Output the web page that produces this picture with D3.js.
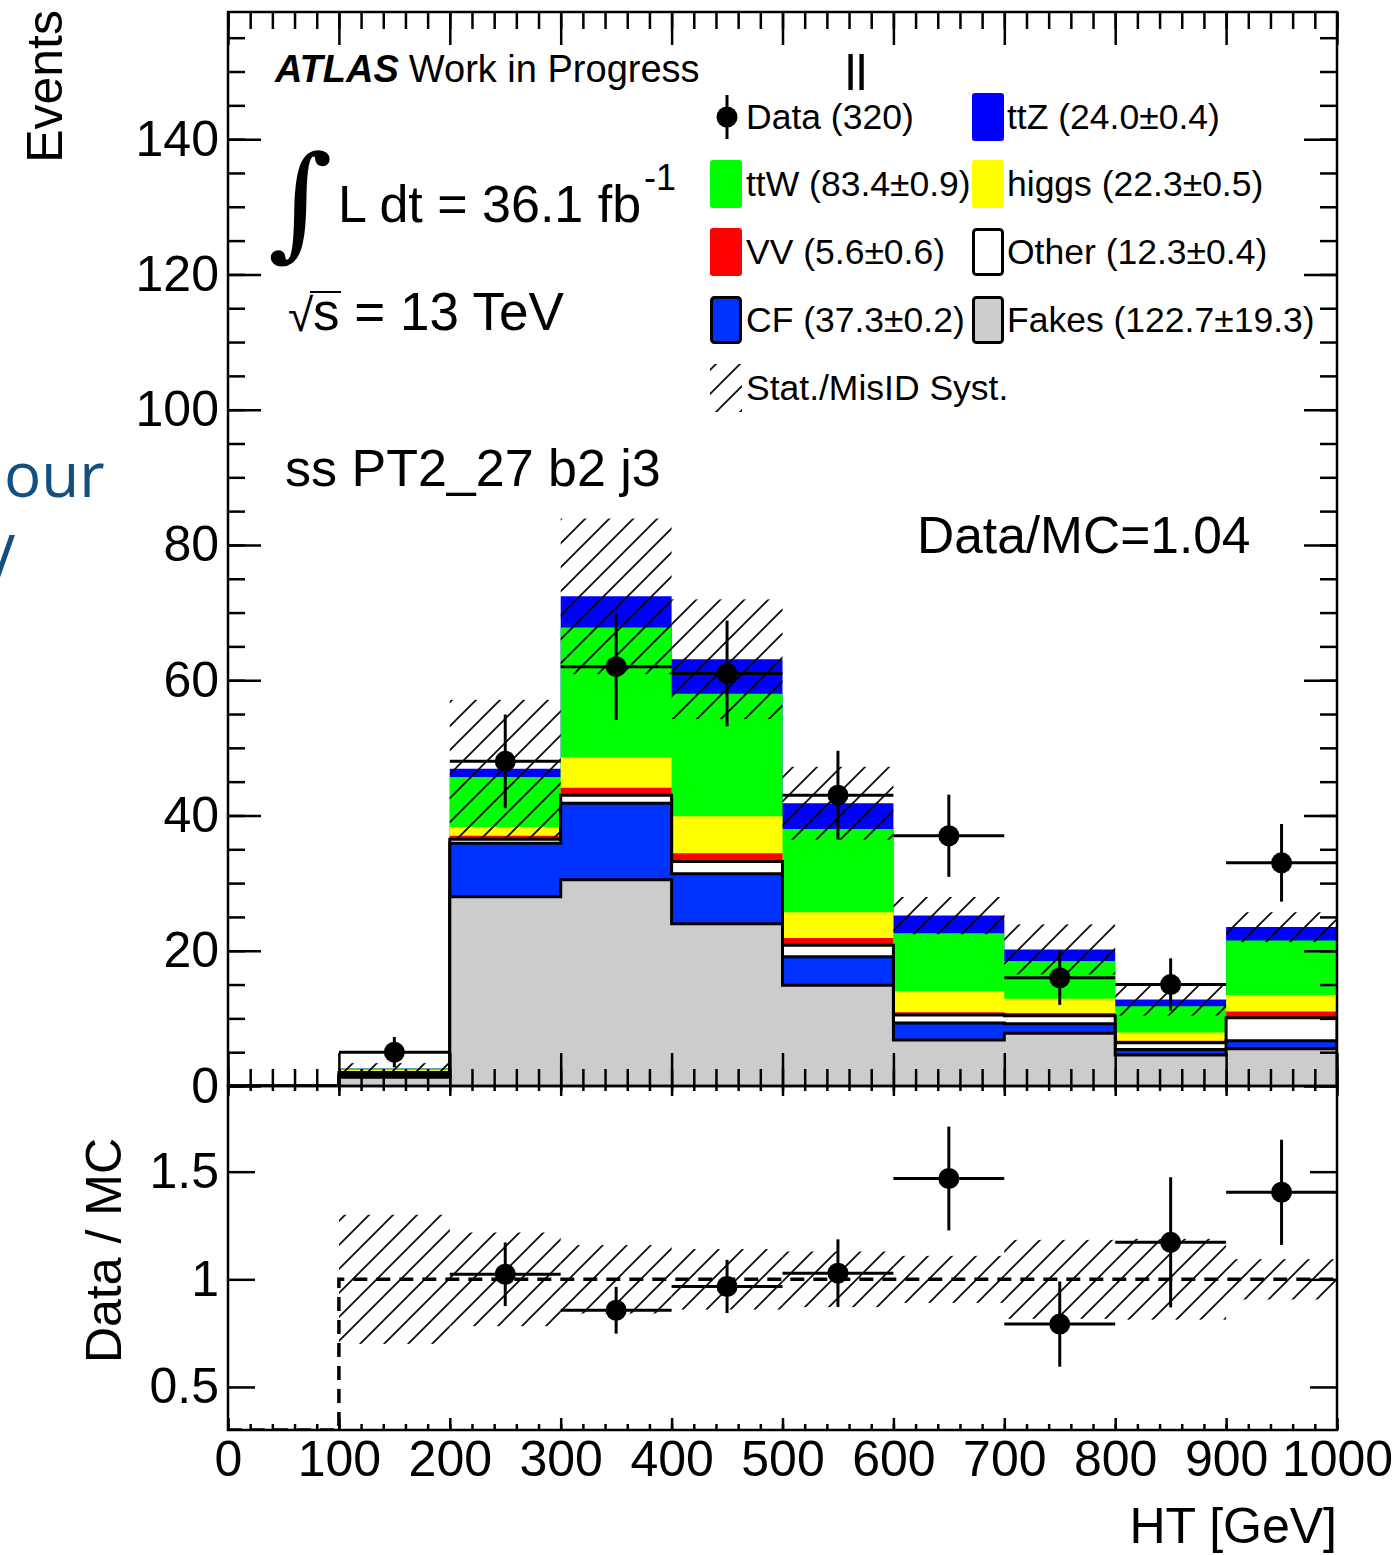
<!DOCTYPE html>
<html>
<head>
<meta charset="utf-8">
<script src="https://cdn.jsdelivr.net/npm/d3@7.9.0/dist/d3.min.js"></script>
<style>
  body { margin: 0; background: #fff; }
  svg { display: block; font-family: "Liberation Sans", Arial, Helvetica, sans-serif; }
</style>
</head>
<body>
<svg id="chart" width="1399" height="1555"></svg>
<script>
// HT bins, 100 GeV wide
const binEdges = [0, 100, 200, 300, 400, 500, 600, 700, 800, 900, 1000];

// observed events per bin
const dataCounts = [0, 5, 48, 62, 61, 43, 37, 16, 15, 33];
const dataErr    = [0, 2.24, 6.93, 7.87, 7.81, 6.56, 6.08, 4.0, 3.87, 5.74];

// MC components per bin
const fakes = [0, 1.3, 28.0, 30.5, 24.0, 14.9, 6.8, 7.8, 4.6, 5.5];
const cf    = [0, 0.3, 7.9, 11.3, 7.4, 4.2, 2.5, 1.4, 0.8, 1.2];
const other = [0, 0.4, 0.6, 1.2, 1.8, 1.7, 1.2, 1.2, 1.0, 3.4];
const vv    = [0, 0.2, 0.5, 1.1, 1.2, 1.1, 0.4, 0.4, 0.3, 0.9];
const higgs = [0, 0.15, 1.3, 4.5, 5.5, 3.8, 3.1, 2.1, 1.2, 2.45];
const ttw   = [0, 0.2, 7.4, 19.2, 18.1, 12.3, 8.6, 5.6, 3.9, 8.05];
const ttz   = [0, 0.05, 1.2, 4.6, 5.1, 3.8, 2.6, 1.7, 1.0, 2.0];

// stat + MisID syst on the total MC
const mcErr = [0, 0.78, 10.2, 11.5, 8.85, 5.4, 2.75, 3.7, 2.4, 2.2];

const legendLabels = {
  data: 'Data (320)', ttz: 'ttZ (24.0\u00b10.4)', ttw: 'ttW (83.4\u00b10.9)',
  higgs: 'higgs (22.3\u00b10.5)', vv: 'VV (5.6\u00b10.6)', other: 'Other (12.3\u00b10.4)',
  cf: 'CF (37.3\u00b10.2)', fakes: 'Fakes (122.7\u00b119.3)', band: 'Stat./MisID Syst.'
};

const yMainTicks = [0, 20, 40, 60, 80, 100, 120, 140];
const yRatioTicks = [0.5, 1, 1.5];
const xTicks = [0, 100, 200, 300, 400, 500, 600, 700, 800, 900, 1000];

// stack order bottom -> top
const components = [
  { key: 'fakes', vals: fakes, fill: '#cccccc', outline: true },
  { key: 'cf',    vals: cf,    fill: '#0032ff', outline: true },
  { key: 'other', vals: other, fill: '#ffffff', outline: true },
  { key: 'vv',    vals: vv,    fill: '#ff0000', outline: false },
  { key: 'higgs', vals: higgs, fill: '#ffff00', outline: false },
  { key: 'ttw',   vals: ttw,   fill: '#00ff00', outline: false },
  { key: 'ttz',   vals: ttz,   fill: '#0000ff', outline: false },
];

// ---- geometry
const L = 228, R = 1337, T = 12, MB = 1086, RB = 1430;
const x = d3.scaleLinear().domain([0, 1000]).range([L, R]);
const yMain = d3.scaleLinear().domain([0, 158.8]).range([MB, T]);
const yRatio = d3.scaleLinear().domain([0.3, 1.898]).range([RB, MB]);

const svg = d3.select('#chart');
const defs = svg.append('defs');

// hatch like ROOT 3004-ish
defs.append('pattern')
  .attr('id', 'hatch').attr('patternUnits', 'userSpaceOnUse')
  .attr('width', 24).attr('height', 24)
  .append('path')
  .attr('d', 'M-6,6 L6,-6 M0,24 L24,0 M18,30 L30,18')
  .attr('stroke', '#000').attr('stroke-width', 1.6);

defs.append('clipPath').attr('id', 'clipMain')
  .append('rect').attr('x', L).attr('y', T).attr('width', R - L).attr('height', MB - T);
defs.append('clipPath').attr('id', 'clipRatio')
  .append('rect').attr('x', L).attr('y', MB).attr('width', R - L).attr('height', RB - MB);

const nb = dataCounts.length;
const bins = d3.range(nb).map(i => ({ i, lo: binEdges[i], hi: binEdges[i + 1], c: (binEdges[i] + binEdges[i + 1]) / 2 }));

// cumulative tops
let running = new Array(nb).fill(0);
components.forEach(comp => {
  running = running.map((r, i) => r + comp.vals[i]);
  comp.top = running.slice();
});
const mcTotal = running;

// step points for a histogram
function stepPts(vals) {
  const pts = [];
  bins.forEach((b, i) => { pts.push([b.lo, vals[i]]); pts.push([b.hi, vals[i]]); });
  return pts;
}

const main = svg.append('g').attr('clip-path', 'url(#clipMain)');

const area = d3.area().x(d => x(d[0])).y0(yMain(0)).y1(d => yMain(d[1]));
const line = d3.line().x(d => x(d[0])).y(d => yMain(d[1]));

// ROOT draws the stack top first, each filled down to zero
components.slice().reverse().forEach(comp => {
  const pts = stepPts(comp.top);
  main.append('path').attr('d', area(pts)).attr('fill', comp.fill).attr('stroke', 'none');
  if (comp.outline) {
    const outline = [[binEdges[0], 0], ...pts, [binEdges[nb], 0]];
    main.append('path').attr('d', line(outline))
      .attr('fill', 'none').attr('stroke', '#000').attr('stroke-width', 3)
      .attr('stroke-linejoin', 'miter');
  }
});

// uncertainty band
const filled = bins.filter(b => mcTotal[b.i] > 0);
main.selectAll('rect.band').data(filled).join('rect')
  .attr('class', 'band')
  .attr('x', b => x(b.lo)).attr('width', b => x(b.hi) - x(b.lo))
  .attr('y', b => yMain(mcTotal[b.i] + mcErr[b.i]))
  .attr('height', b => yMain(mcTotal[b.i] - mcErr[b.i]) - yMain(mcTotal[b.i] + mcErr[b.i]))
  .attr('fill', 'url(#hatch)');

// data points
function drawPoints(g, pts, yScale) {
  const sel = g.selectAll('g.pt').data(pts).join('g').attr('class', 'pt');
  sel.append('line')
    .attr('x1', d => x(d.lo)).attr('x2', d => x(d.hi))
    .attr('y1', d => yScale(d.v)).attr('y2', d => yScale(d.v))
    .attr('stroke', '#000').attr('stroke-width', 3);
  sel.append('line')
    .attr('x1', d => x(d.c)).attr('x2', d => x(d.c))
    .attr('y1', d => yScale(d.v - d.e)).attr('y2', d => yScale(d.v + d.e))
    .attr('stroke', '#000').attr('stroke-width', 3);
  sel.append('circle')
    .attr('cx', d => x(d.c)).attr('cy', d => yScale(d.v)).attr('r', 10.5).attr('fill', '#000');
}
drawPoints(main, bins.map(b => ({ ...b, v: dataCounts[b.i], e: dataErr[b.i] })).filter(d => d.v > 0), yMain);

// ---- ratio panel
const ratio = svg.append('g').attr('clip-path', 'url(#clipRatio)');
ratio.selectAll('rect.rband').data(filled).join('rect')
  .attr('class', 'rband')
  .attr('x', b => x(b.lo)).attr('width', b => x(b.hi) - x(b.lo))
  .attr('y', b => yRatio(1 + mcErr[b.i] / mcTotal[b.i]))
  .attr('height', b => yRatio(1 - mcErr[b.i] / mcTotal[b.i]) - yRatio(1 + mcErr[b.i] / mcTotal[b.i]))
  .attr('fill', 'url(#hatch)');

// MC/MC reference, dashed
const refVals = mcTotal.map(v => (v > 0 ? 1 : 0));
const refPts = stepPts(refVals).map(p => [p[0], Math.max(p[1], 0.3)]);
ratio.append('path')
  .attr('d', d3.line().x(d => x(d[0])).y(d => yRatio(d[1]))(refPts))
  .attr('fill', 'none').attr('stroke', '#000').attr('stroke-width', 3.5)
  .attr('stroke-dasharray', '14,9');

const ratioPts = bins.map(b => ({ ...b, v: mcTotal[b.i] > 0 ? dataCounts[b.i] / mcTotal[b.i] : 0, e: mcTotal[b.i] > 0 ? dataErr[b.i] / mcTotal[b.i] : 0 }))
  .filter(d => d.v > 0 && d.v < 1.898);
drawPoints(ratio, ratioPts, yRatio);

// ---- frames and ticks
const frame = svg.append('g');
frame.append('rect').attr('x', L).attr('y', T).attr('width', R - L).attr('height', MB - T)
  .attr('fill', 'none').attr('stroke', '#000').attr('stroke-width', 2.5);
frame.append('rect').attr('x', L).attr('y', MB).attr('width', R - L).attr('height', RB - MB)
  .attr('fill', 'none').attr('stroke', '#000').attr('stroke-width', 2.5);

function styleAxis(g) {
  g.select('.domain').remove();
  g.selectAll('line').attr('stroke', '#000').attr('stroke-width', 2.5);
  g.attr('font-size', 50).attr('font-family', '"Liberation Sans", Arial, sans-serif');
  g.selectAll('text').attr('fill', '#000');
}
const yMinor = d3.range(0, 158, 5);
const xMinor = d3.range(0, 1001, 20);

// main y
frame.append('g').attr('transform', `translate(${L},0)`)
  .call(d3.axisLeft(yMain).tickValues(yMinor).tickSize(-17).tickFormat('')).call(styleAxis);
frame.append('g').attr('transform', `translate(${L},0)`)
  .call(d3.axisLeft(yMain).tickValues(yMainTicks).tickSize(-33).tickPadding(9).tickFormat(d3.format('d'))).call(styleAxis);
frame.append('g').attr('transform', `translate(${R},0)`)
  .call(d3.axisRight(yMain).tickValues(yMinor).tickSize(-17).tickFormat('')).call(styleAxis);
frame.append('g').attr('transform', `translate(${R},0)`)
  .call(d3.axisRight(yMain).tickValues(yMainTicks).tickSize(-33).tickFormat('')).call(styleAxis);
// main x
frame.append('g').attr('transform', `translate(0,${MB})`)
  .call(d3.axisBottom(x).tickValues(xMinor).tickSize(-17).tickFormat('')).call(styleAxis);
frame.append('g').attr('transform', `translate(0,${MB})`)
  .call(d3.axisBottom(x).tickValues(xTicks).tickSize(-33).tickFormat('')).call(styleAxis);
frame.append('g').attr('transform', `translate(0,${T})`)
  .call(d3.axisTop(x).tickValues(xMinor).tickSize(-17).tickFormat('')).call(styleAxis);
frame.append('g').attr('transform', `translate(0,${T})`)
  .call(d3.axisTop(x).tickValues(xTicks).tickSize(-33).tickFormat('')).call(styleAxis);

// ratio y
frame.append('g').attr('transform', `translate(${L},0)`)
  .call(d3.axisLeft(yRatio).tickValues(yRatioTicks).tickSize(-27).tickPadding(9).tickFormat(d => String(d))).call(styleAxis);
frame.append('g').attr('transform', `translate(${R},0)`)
  .call(d3.axisRight(yRatio).tickValues(yRatioTicks).tickSize(-27).tickFormat('')).call(styleAxis);
// ratio x
frame.append('g').attr('transform', `translate(0,${RB})`)
  .call(d3.axisBottom(x).tickValues(xMinor).tickSize(-6).tickFormat('')).call(styleAxis);
frame.append('g').attr('transform', `translate(0,${RB})`)
  .call(d3.axisBottom(x).tickValues(xTicks).tickSize(-12).tickPadding(10).tickFormat(d3.format('d'))).call(styleAxis);
frame.append('g').attr('transform', `translate(0,${MB})`)
  .call(d3.axisTop(x).tickValues(xMinor).tickSize(-5).tickFormat('')).call(styleAxis);
frame.append('g').attr('transform', `translate(0,${MB})`)
  .call(d3.axisTop(x).tickValues(xTicks).tickSize(-10).tickFormat('')).call(styleAxis);

// ---- axis titles
svg.append('text').attr('transform', 'translate(62,10) rotate(-90)')
  .attr('text-anchor', 'end').attr('font-size', 50).text('Events');
svg.append('text').attr('transform', 'translate(121,1138) rotate(-90)')
  .attr('text-anchor', 'end').attr('font-size', 50).text('Data / MC');
svg.append('text').attr('x', R).attr('y', 1543)
  .attr('text-anchor', 'end').attr('font-size', 50).text('HT [GeV]');

// ---- labels in the pad
const atlas = svg.append('text').attr('x', 275).attr('y', 82).attr('font-size', 38);
atlas.append('tspan').attr('font-weight', 'bold').attr('font-style', 'italic').text('ATLAS');
atlas.append('tspan').attr('dx', 10).text('Work in Progress');

svg.append('text').attr('x', 268).attr('y', 244).attr('font-size', 124)
  .attr('font-family', '"DejaVu Serif", serif').text('\u222b');
const lumi = svg.append('text').attr('x', 338).attr('y', 222).attr('font-size', 52);
lumi.append('tspan').text('L dt = 36.1 fb');
lumi.append('tspan').attr('font-size', 36).attr('dy', -32).attr('dx', 3).text('-1');

svg.append('text').attr('x', 288).attr('y', 331).attr('font-size', 46).text('\u221a');
svg.append('line').attr('x1', 310).attr('x2', 341).attr('y1', 292).attr('y2', 292)
  .attr('stroke', '#000').attr('stroke-width', 2);
svg.append('text').attr('x', 313).attr('y', 330).attr('font-size', 53).text('s = 13 TeV');

svg.append('text').attr('x', 285).attr('y', 486).attr('font-size', 52).text('ss PT2_27 b2 j3');
svg.append('text').attr('x', 917).attr('y', 553).attr('font-size', 51.5).text('Data/MC=1.04');
svg.append('text').attr('x', 845).attr('y', 90).attr('font-size', 50).text('ll');

// slide remnants at the left edge
svg.append('text').attr('x', 4).attr('y', 497).attr('font-size', 62)
  .attr('fill', '#14507f').attr('font-family', '"Open Sans", sans-serif').text('our');
svg.append('text').attr('x', -22).attr('y', 580).attr('font-size', 62)
  .attr('fill', '#14507f').attr('font-family', '"Open Sans", sans-serif').text('V');

// ---- legend
const rowY = [117, 184, 252, 320, 388];
const col1 = 710, col2 = 972, sw = 32, sh = 48;
const leg = svg.append('g').attr('font-size', 35.5);
const swatchFor = Object.fromEntries(components.map(c => [c.key, c]));
const legendItems = [
  { key: 'data', col: 0, row: 0 }, { key: 'ttz', col: 1, row: 0 },
  { key: 'ttw', col: 0, row: 1 }, { key: 'higgs', col: 1, row: 1 },
  { key: 'vv', col: 0, row: 2 }, { key: 'other', col: 1, row: 2 },
  { key: 'cf', col: 0, row: 3 }, { key: 'fakes', col: 1, row: 3 },
  { key: 'band', col: 0, row: 4 },
];
legendItems.forEach(it => {
  const x0 = it.col === 0 ? col1 : col2;
  const cy = rowY[it.row];
  if (it.key === 'data') {
    leg.append('line').attr('x1', x0 + 17).attr('x2', x0 + 17).attr('y1', cy - 22).attr('y2', cy + 22)
      .attr('stroke', '#000').attr('stroke-width', 3);
    leg.append('circle').attr('cx', x0 + 17).attr('cy', cy).attr('r', 10.5).attr('fill', '#000');
  } else if (it.key === 'band') {
    leg.append('rect').attr('x', x0).attr('y', cy - sh / 2).attr('width', sw).attr('height', sh)
      .attr('fill', 'url(#hatch)');
  } else {
    const c = swatchFor[it.key];
    leg.append('rect').attr('x', x0 + (c.outline ? 1.5 : 0)).attr('y', cy - sh / 2 + (c.outline ? 1.5 : 0))
      .attr('width', sw - (c.outline ? 3 : 0)).attr('height', sh - (c.outline ? 3 : 0))
      .attr('rx', 3).attr('fill', c.fill)
      .attr('stroke', c.outline ? '#000' : 'none').attr('stroke-width', 3);
  }
  leg.append('text').attr('x', x0 + (it.col === 0 ? 36 : 35)).attr('y', cy + 12).text(legendLabels[it.key]);
});
</script>
</body>
</html>
